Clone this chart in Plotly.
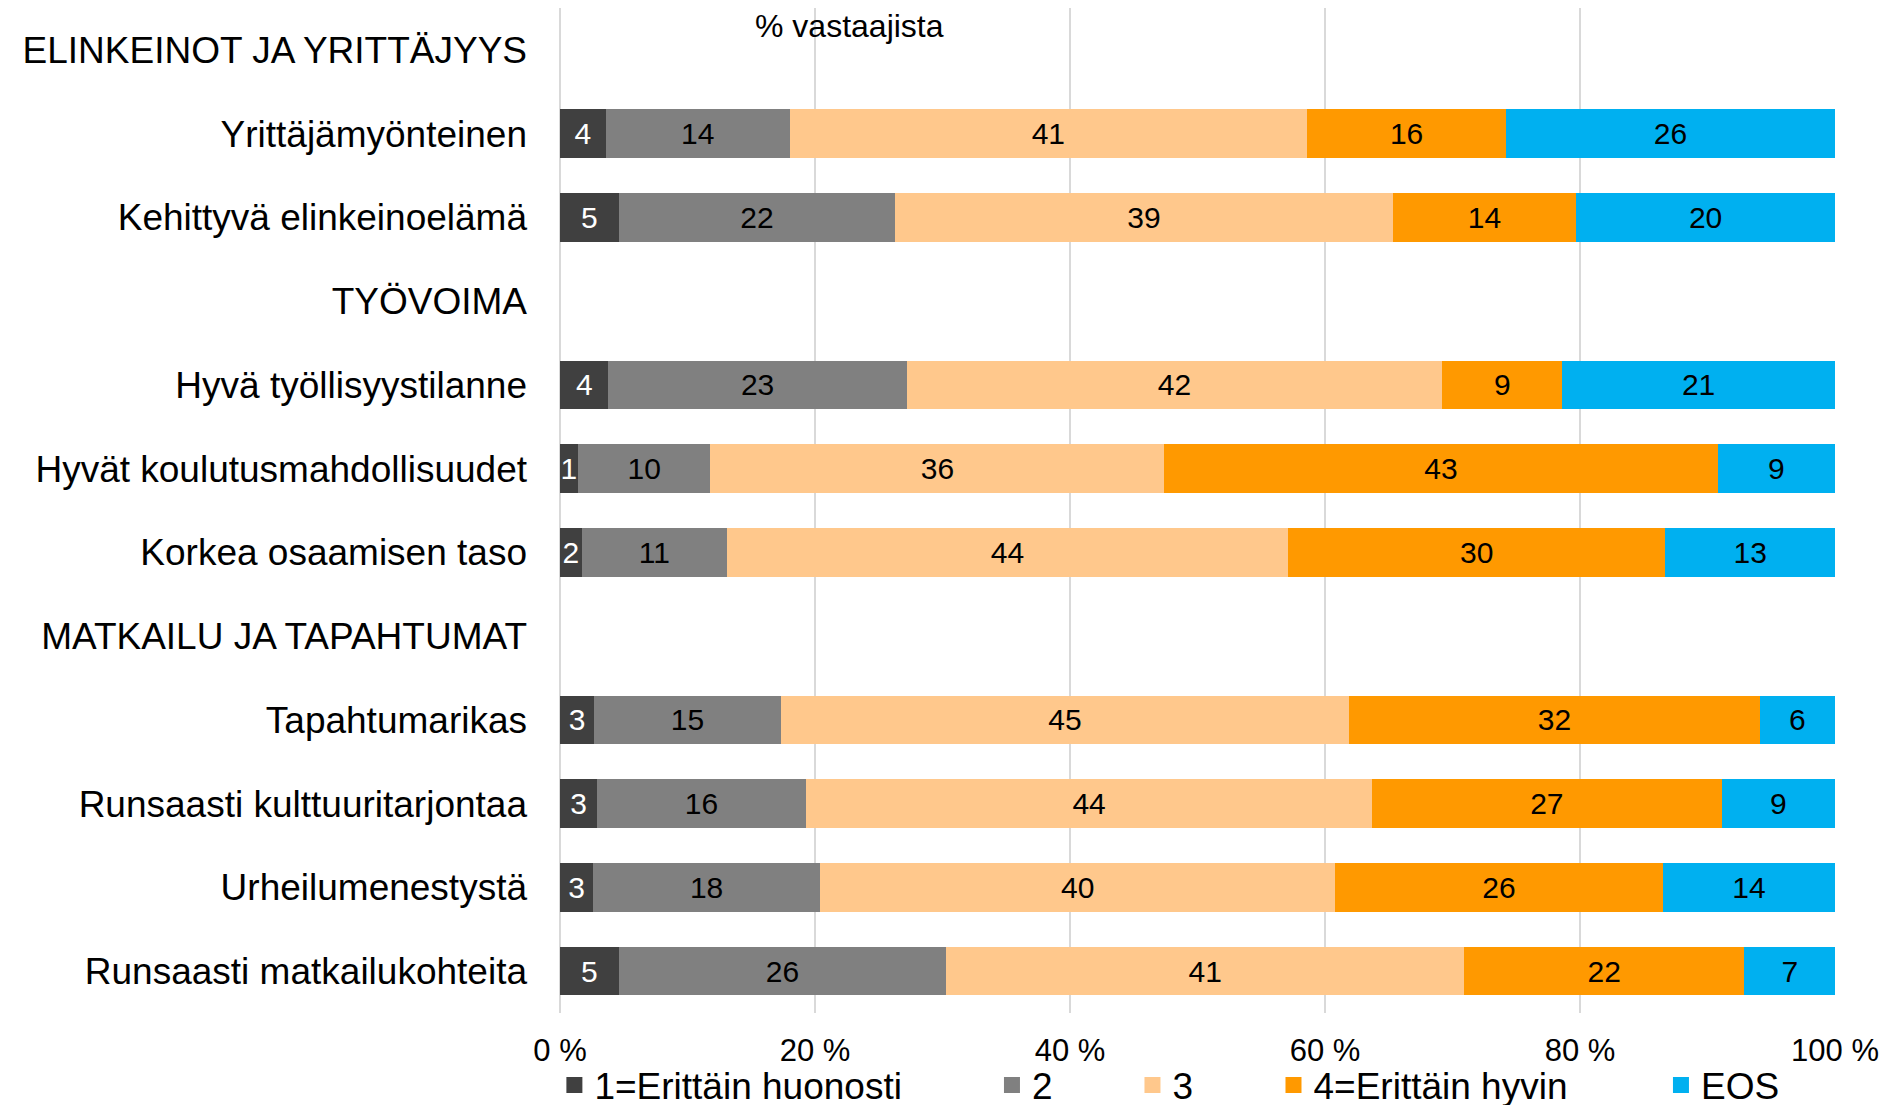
import plotly.graph_objects as go

categories = [
    "ELINKEINOT JA YRITTÄJYYS",
    "Yrittäjämyönteinen",
    "Kehittyvä elinkeinoelämä",
    "TYÖVOIMA",
    "Hyvä työllisyystilanne",
    "Hyvät koulutusmahdollisuudet",
    "Korkea osaamisen taso",
    "MATKAILU JA TAPAHTUMAT",
    "Tapahtumarikas",
    "Runsaasti kulttuuritarjontaa",
    "Urheilumenestystä",
    "Runsaasti matkailukohteita",
]

series_names = ["1=Erittäin huonosti", "2", "3", "4=Erittäin hyvin", "EOS"]

# % of respondents (None = section header row without a bar)
s1 = [None, 3.6, 4.6, None, 3.8, 1.4, 1.7, None, 2.7, 2.9, 2.6, 4.6]
s2 = [None, 14.4, 21.7, None, 23.4, 10.4, 11.4, None, 14.6, 16.4, 17.8, 25.7]
s3 = [None, 40.6, 39.0, None, 42.0, 35.6, 44.0, None, 44.6, 44.4, 40.4, 40.6]
s4 = [None, 15.6, 14.4, None, 9.4, 43.4, 29.6, None, 32.2, 27.4, 25.7, 22.0]
s5 = [None, 25.8, 20.3, None, 21.4, 9.2, 13.3, None, 5.9, 8.9, 13.5, 7.1]

x_ticks = [0, 20, 40, 60, 80, 100]
x_tick_labels = ["0 %", "20 %", "40 %", "60 %", "80 %", "100 %"]

colors = ["#404040", "#808080", "#FFC88C", "#FF9900", "#00B0F0"]
text_colors = ["white", "black", "black", "black", "black"]
legend_ids = ["legend", "legend2", "legend3", "legend4", "legend5"]
legend_x = [-0.0044, 0.3388, 0.4490, 0.5596, 0.8635]

FONT = "Liberation Sans, Arial, sans-serif"

fig = go.Figure()
for name, vals, col, tcol, lid in zip(series_names, [s1, s2, s3, s4, s5],
                                      colors, text_colors, legend_ids):
    fig.add_trace(go.Bar(
        y=categories, x=vals, name=name, orientation="h",
        marker=dict(color=col, line=dict(width=0)),
        texttemplate="%{x:.0f}", textposition="inside",
        insidetextanchor="middle", constraintext="none",
        textfont=dict(size=30, color=tcol, family=FONT),
        legend=lid, showlegend=False, hoverinfo="skip",
    ))
    # legend entry with a larger square swatch
    fig.add_trace(go.Scatter(
        x=[None], y=[None], mode="markers", name=name,
        marker=dict(symbol="square", size=18, color=col),
        legend=lid, showlegend=True, hoverinfo="skip",
    ))

layout_legends = {}
for lid, lx in zip(legend_ids, legend_x):
    layout_legends[lid] = dict(
        orientation="h", x=lx, xref="paper", xanchor="left",
        y=-0.0721, yanchor="middle", bgcolor="rgba(0,0,0,0)",
        font=dict(size=37, family=FONT, color="black"),
        itemclick=False, itemdoubleclick=False,
    )

fig.update_layout(
    barmode="stack",
    bargap=0.42,
    width=1888, height=1105,
    margin=dict(l=552, r=61, t=0, b=99.5, autoexpand=False),
    plot_bgcolor="white", paper_bgcolor="white",
    font=dict(family=FONT, color="black"),
    showlegend=True,
    **layout_legends,
    xaxis=dict(
        range=[0, 100], tickmode="array", tickvals=x_ticks,
        ticktext=x_tick_labels,
        showgrid=True, gridcolor="#D9D9D9", gridwidth=2,
        zeroline=True, zerolinecolor="#D9D9D9", zerolinewidth=2,
        showline=False, ticks="",
        tickfont=dict(size=31, family=FONT, color="black"),
        ticklabelstandoff=16, fixedrange=True,
    ),
    yaxis=dict(
        type="category", categoryorder="array", categoryarray=categories,
        autorange="reversed", showgrid=False, zeroline=False, showline=False,
        ticks="", tickfont=dict(size=37, family=FONT, color="black"),
        ticklabelstandoff=32, fixedrange=True,
    ),
    annotations=[dict(
        text="% vastaajista", x=22.67, xref="x", y=0.9821, yref="paper",
        xanchor="center", yanchor="middle", showarrow=False, borderpad=0,
        font=dict(size=32, family=FONT, color="black"),
    )],
)

fig.write_html("out.html")
